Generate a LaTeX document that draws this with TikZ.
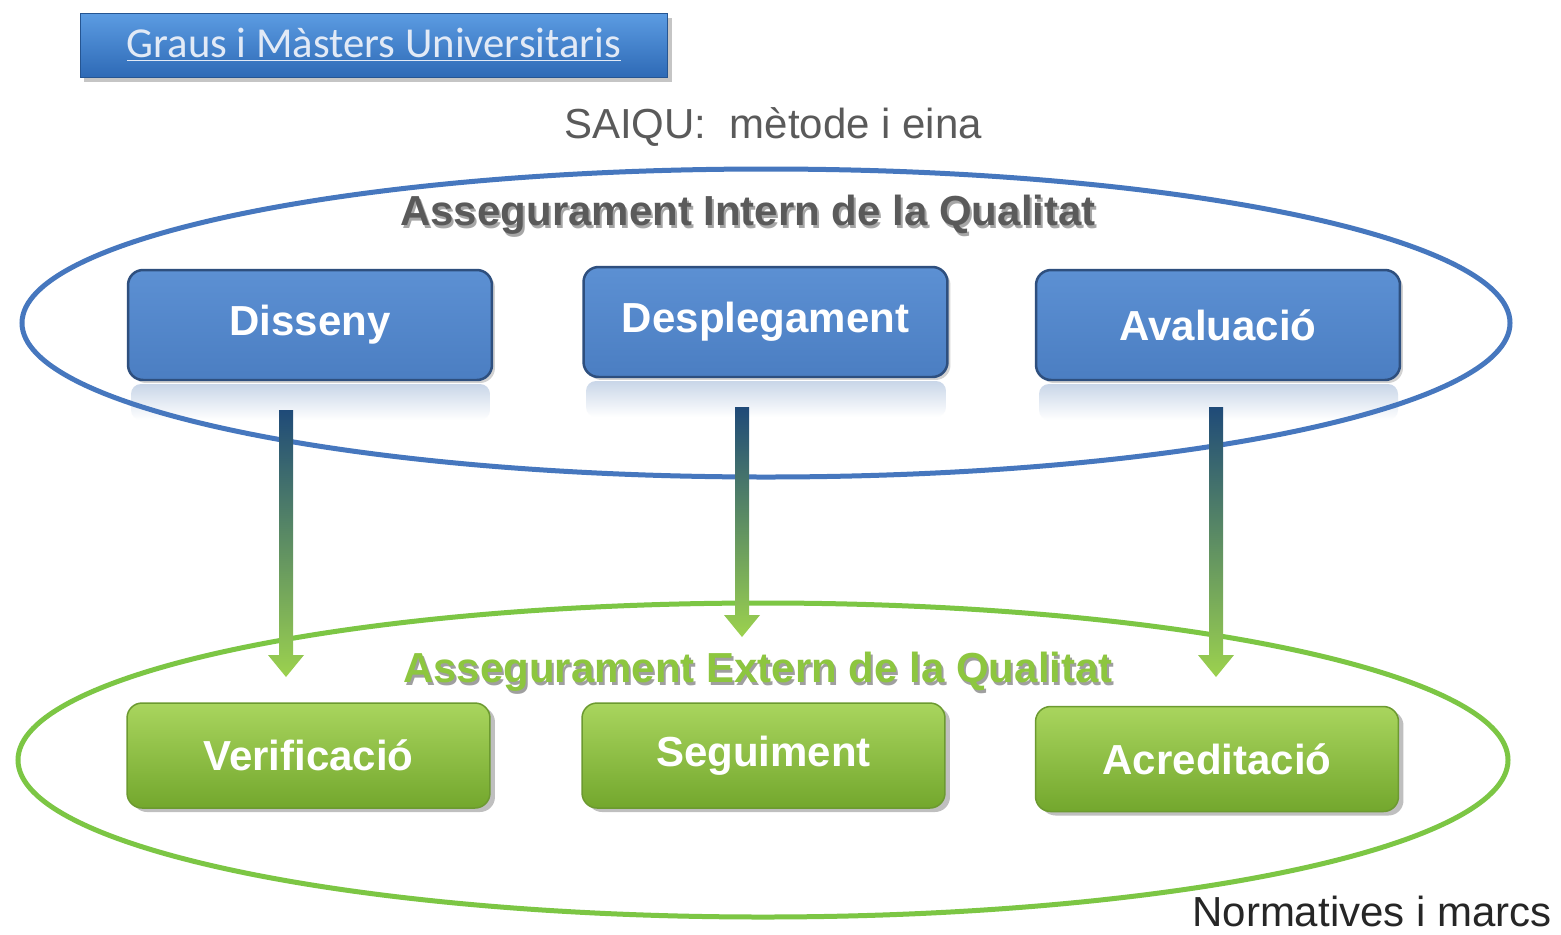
\documentclass[tikz,border=0pt]{standalone}
\usepackage{fontspec}
\setmainfont{Liberation Sans}
\newfontfamily\calfont{Carlito}
\usetikzlibrary{shadows,calc}
\definecolor{bfill}{HTML}{5C90D3}
\definecolor{bfillb}{HTML}{4B7EC2}
\definecolor{bdraw}{HTML}{2E4F7E}
\definecolor{ellb}{HTML}{4677BE}
\definecolor{ellg}{HTML}{7CC644}
\definecolor{gtop}{HTML}{A9D55E}
\definecolor{gbot}{HTML}{73A72D}
\definecolor{gdraw}{HTML}{6C9A30}
\definecolor{arrtop}{HTML}{1F4A78}
\definecolor{arrbot}{HTML}{9CD24E}
\definecolor{bantop}{HTML}{5C9CE2}
\definecolor{banbot}{HTML}{2E6AB6}
\definecolor{bantext}{HTML}{E2EAF6}
\definecolor{txtgray}{HTML}{5A5A5A}
\definecolor{extgreen}{HTML}{8DC63F}
\definecolor{refl}{HTML}{C9D6E8}
\newcommand{\boxfont}{\fontsize{23.9}{28}\selectfont\bfseries}
\newcommand{\plainfont}{\fontsize{23.9}{28}\selectfont}
\newcommand{\banfont}{\calfont\fontsize{24.3}{28}\selectfont}
\newcommand{\gradarrow}[2]{%
  \shade[top color=arrtop, bottom color=arrbot]
    ([shift={(-7,0)}]#1) -- ([shift={(-7,-22)}]#2) -- ([shift={(-18,-22)}]#2) -- (#2)
    -- ([shift={(18,-22)}]#2) -- ([shift={(7,-22)}]#2) -- ([shift={(7,0)}]#1) -- cycle;}
\tikzset{
  bluebox/.style={rectangle, rounded corners=0.3cm, draw=bdraw, line width=0.05cm,
    top color=bfill, bottom color=bfillb, minimum width=7.28cm, minimum height=2.2cm,
    text=white, font=\boxfont,
    drop shadow={opacity=0.35, shadow xshift=0.06cm, shadow yshift=-0.06cm}},
  greenbox/.style={rectangle, rounded corners=0.3cm, draw=gdraw, line width=0.03cm,
    top color=gtop, bottom color=gbot, minimum width=7.26cm, minimum height=2.1cm,
    text=white, font=\boxfont,
    drop shadow={opacity=0.5, shadow xshift=0.1cm, shadow yshift=-0.08cm}},
  banner/.style={rectangle, top color=bantop, bottom color=banbot, draw=banbot!80!black,
    line width=0.02cm, minimum width=11.76cm, minimum height=1.28cm, text=bantext,
    font=\banfont, drop shadow={opacity=0.45, shadow xshift=0.08cm, shadow yshift=-0.1cm}},
  reflection/.style={top color=refl, bottom color=white, draw=none, rounded corners=0.2cm}
}
\begin{document}
\begin{tikzpicture}[x=0.02cm,y=-0.02cm]
\useasboundingbox (0,0) rectangle (1561,934);
\fill[white] (0,0) rectangle (1561,934);

% banner and title
\node[banner] (graus) at (374,45) {\underline{Graus i Màsters Universitaris}};
\node[font=\plainfont, text=txtgray] (saiqu) at (773,127) {SAIQU:\ \ mètode i eina};

% reflections under blue boxes
\shade[reflection] (131,384) rectangle (490,420);
\shade[reflection] (586,381) rectangle (946,417);
\shade[reflection] (1039,384) rectangle (1398,420);

% ellipses
\draw[ellb, line width=0.1cm] (766,323) ellipse [x radius=744, y radius=154];
\draw[ellg, line width=0.1cm] (763,760) ellipse [x radius=745, y radius=157];

% arrows
\coordinate (a1s) at (286,410);
\coordinate (a1e) at (286,677);
\coordinate (a2s) at (742,407);
\coordinate (a2e) at (742,637);
\coordinate (a3s) at (1216,407);
\coordinate (a3e) at (1216,677);
\gradarrow{a1s}{a1e}
\gradarrow{a2s}{a2e}
\gradarrow{a3s}{a3e}

% headings
\node[font=\boxfont, text=gray!70] (internsh) at (750,218) {Assegurament Intern de la Qualitat};
\node[font=\boxfont, text=txtgray] (intern) at (748,215) {Assegurament Intern de la Qualitat};
\node[font=\boxfont, text=gray!75] (externsh) at (760,675) {Assegurament Extern de la Qualitat};
\node[font=\boxfont, text=extgreen] (extern) at (758,672) {Assegurament Extern de la Qualitat};

% blue boxes
\node[bluebox] (dis) at (310,325) {Disseny};
\node[bluebox] (des) at (765.5,322) {Desplegament};
\node[bluebox] (ava) at (1218,325) {Avaluació};

% green boxes
\node[greenbox] (ver) at (308.5,755.5) {Verificació};
\node[greenbox] (seg) at (763.5,755.5) {Seguiment};
\node[greenbox] (acr) at (1217,759) {Acreditació};

% bottom label
\node[font=\plainfont, text=black!85, anchor=base east, inner sep=0pt] (norm) at (1552,926) {Normatives i marcs};
\end{tikzpicture}
\end{document}
